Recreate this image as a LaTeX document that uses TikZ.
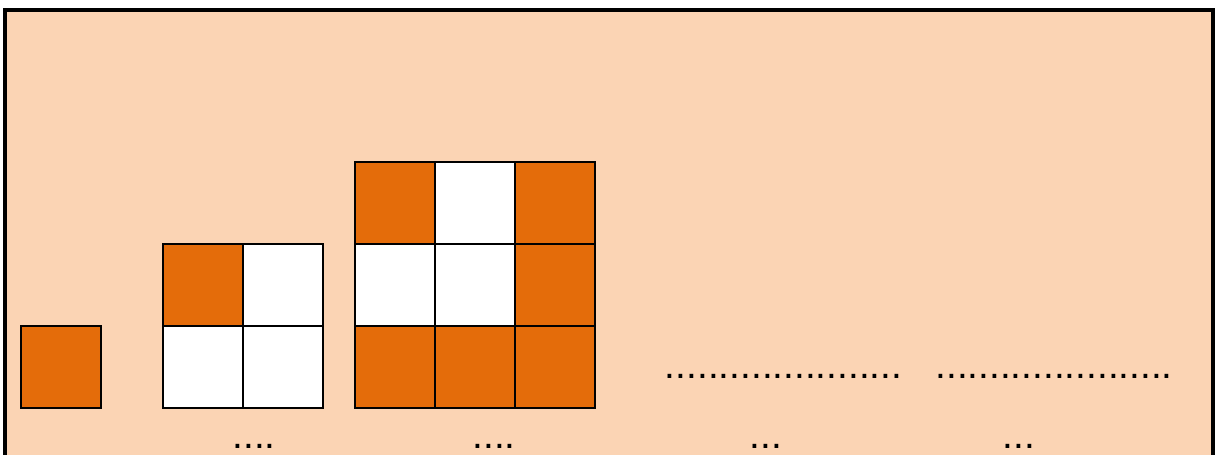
\documentclass[tikz,border=0pt]{standalone}
\usepackage{fontspec}
\setmainfont{Liberation Sans}
\definecolor{peach}{HTML}{FBD4B4}
\definecolor{burnt}{HTML}{E46C0A}
\tikzset{
  cell/.style={draw=black, line width=0.7pt},
  dotrow/.style={anchor=base, inner sep=0pt, font=\fontsize{13.8}{16}\selectfont}
}
\begin{document}
\begin{tikzpicture}[y=1.025cm]
    \useasboundingbox (0,0) rectangle (15.2125,5.5366);
    \begin{scope}
        \clip (0,0) rectangle (15.2125,5.5366);
        \draw[line width=1.1pt, fill=peach] (0.0625,-0.5) rectangle (15.1625,5.4146);
    \end{scope}

    % first pattern
    \draw[cell, fill=burnt] (0.2625,0.561) rectangle ++(1,1);

    % second pattern
    \foreach \x/\y/\c in {0/1/burnt, 1/1/white, 0/0/white, 1/0/white}
        \draw[cell, fill=\c] (2.0375+\x,0.561+\y) rectangle ++(1,1);

    % third pattern
    \foreach \x/\y/\c in {0/2/burnt, 1/2/white, 2/2/burnt,
                          0/1/white, 1/1/white, 2/1/burnt,
                          0/0/burnt, 1/0/burnt, 2/0/burnt}
        \draw[cell, fill=\c] (4.4375+\x,0.561+\y) rectangle ++(1,1);

    % dots
    \node[dotrow] (rowa) at (9.794,0.921) {......................};
    \node[dotrow] (rowb) at (13.175,0.921) {......................};
    \node[dotrow] (capb) at (3.175,0.067) {....};
    \node[dotrow] (capc) at (6.175,0.067) {....};
    \node[dotrow] (capd) at (9.575,0.067) {...};
    \node[dotrow] (cape) at (12.7375,0.067) {...};
\end{tikzpicture}
\end{document}
